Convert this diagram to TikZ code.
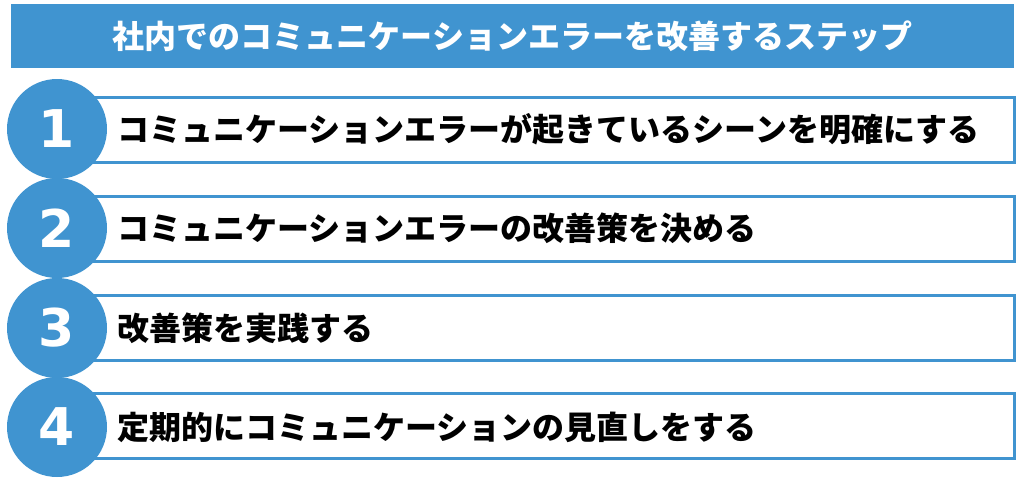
\documentclass[tikz,border=0pt]{standalone}
\usepackage{fontspec}
\newfontfamily\jpfont{Noto Sans CJK JP}
\newfontfamily\numfont{DejaVu Sans}
\usepackage{tikz}
\usetikzlibrary{positioning}

\definecolor{stepblue}{RGB}{64,148,208}

\begin{document}
\begin{tikzpicture}[
    x=1pt, y=-1pt,
    node distance=11pt,
    every node/.style={font=\jpfont\bfseries\fontsize{32}{32}\selectfont},
    titlebar/.style={rectangle, fill=stepblue, text=white, minimum width=1003pt, minimum height=64pt, inner sep=0pt},
    stepbox/.style={rectangle, draw=stepblue, line width=2.5pt, fill=white, minimum width=956pt, minimum height=65pt, anchor=west},
    stepnum/.style={circle, fill=stepblue, minimum size=100pt, inner sep=0pt, text=white, font=\numfont\bfseries\fontsize{52}{52}\selectfont},
    steptext/.style={anchor=west, inner sep=0pt, text=black}
]
\useasboundingbox (0,0) rectangle (1023,482);

% Title
\node[titlebar] (title) at (512.5,36) {社内でのコミュニケーションエラーを改善するステップ};

% Boxes
\node[stepbox] (b1) at (57,130) {};
\node[stepbox] (b2) at (57,229) {};
\node[stepbox] (b3) at (57,328) {};
\node[stepbox] (b4) at (57,426) {};

% Numbers
\node[stepnum] (c1) at (57,129) {1};
\node[stepnum] (c2) at (57,228) {2};
\node[stepnum] (c3) at (57,328) {3};
\node[stepnum] (c4) at (57,427) {4};

% Texts
\node[steptext, right=10pt of c1] (t1) {コミュニケーションエラーが起きているシーンを明確にする};
\node[steptext, right=10pt of c2] (t2) {コミュニケーションエラーの改善策を決める};
\node[steptext, right=10pt of c3] (t3) {改善策を実践する};
\node[steptext, right=10pt of c4] (t4) {定期的にコミュニケーションの見直しをする};

\end{tikzpicture}
\end{document}
